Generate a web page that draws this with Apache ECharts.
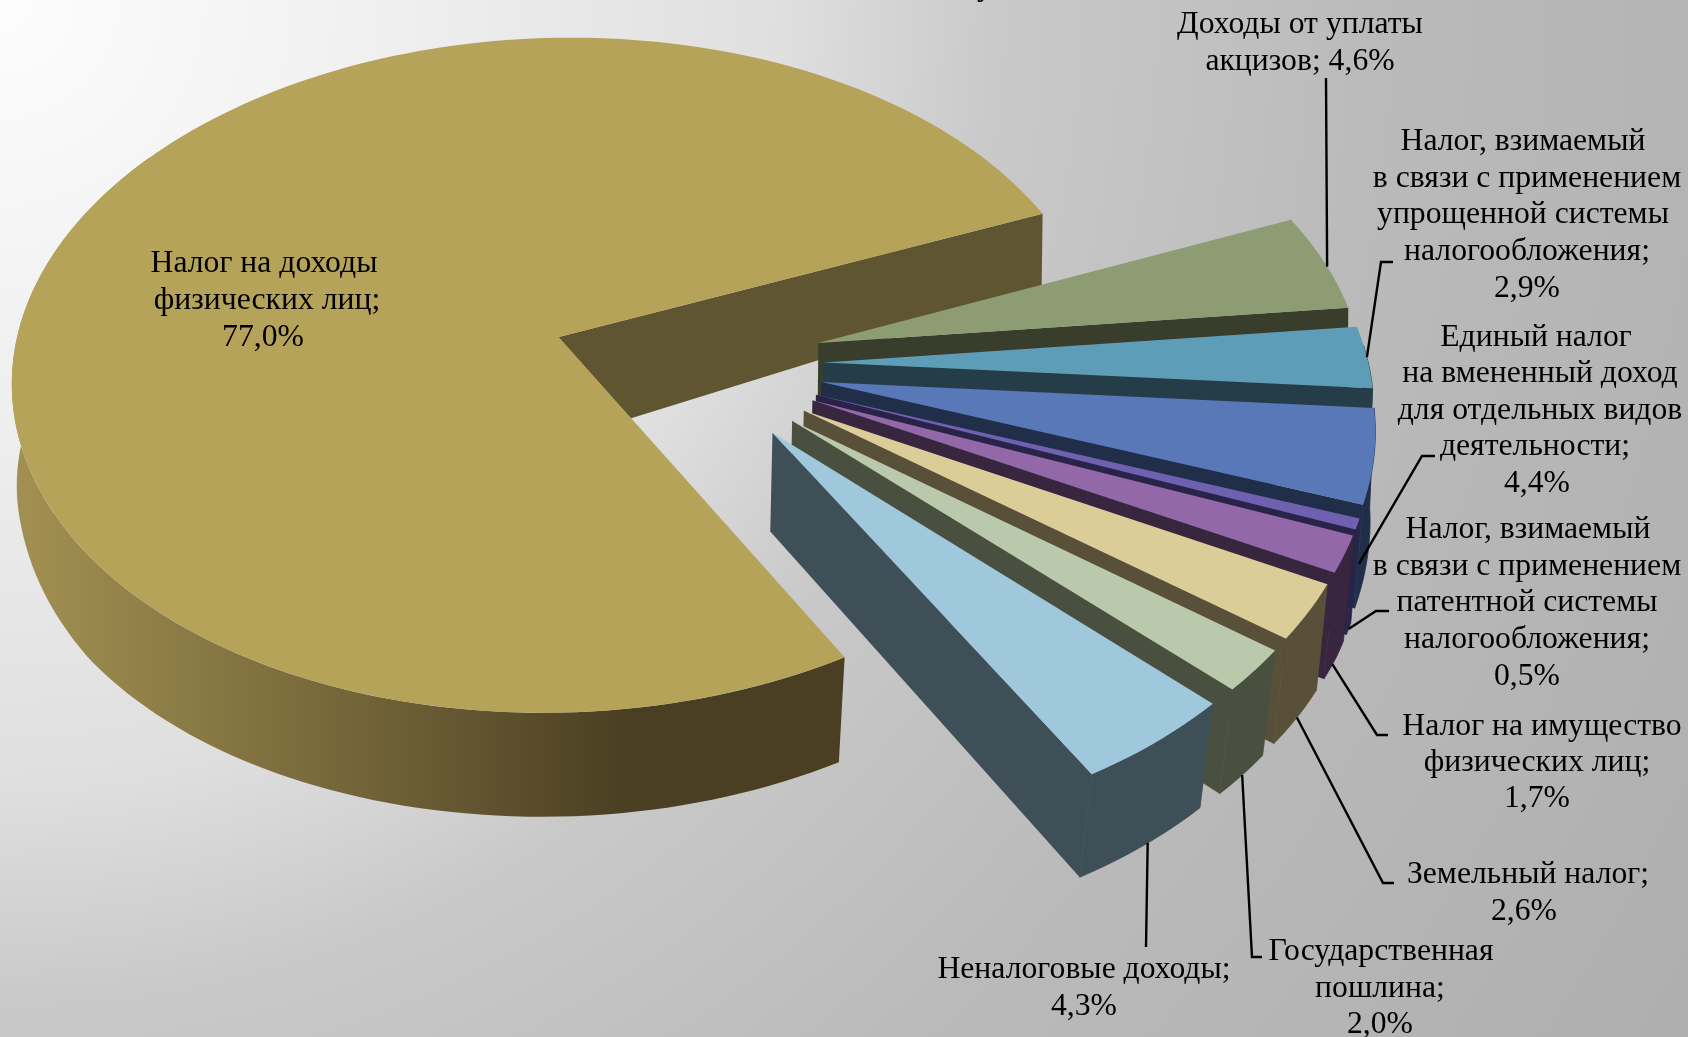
<!DOCTYPE html>
<html><head><meta charset="utf-8">
<style>html,body{margin:0;padding:0;background:#ccc}#c{width:1688px;height:1037px}</style>
<script src="https://cdn.jsdelivr.net/npm/echarts@6/dist/echarts.min.js"></script>
</head><body><div id="c"></div>
<script>
const categories=["Налог на доходы физических лиц","Доходы от уплаты акцизов","Налог УСН","ЕНВД","Патент","Налог на имущество физических лиц","Земельный налог","Государственная пошлина","Неналоговые доходы"];
const values=[77.0,4.6,2.9,4.4,0.5,1.7,2.6,2.0,4.3];
const topColors=["#B6A35A","#8D9C73","#5E9DB8","#5878B8","#7060B0","#9268A8","#DCCD98","#BAC8AC","#A0C8DC"];
const wallColors=["#5F5530","#383D2C","#243D48","#202E4A","#2A2348","#38263F","#585038","#4A5040","#3E4F58"];
const labelLines=[
 ["Налог на доходы","физических лиц;","77,0%"],
 ["Доходы от уплаты","акцизов; 4,6%"],
 ["Налог, взимаемый","в связи с применением","упрощенной системы","налогообложения;","2,9%"],
 ["Единый налог","на вмененный доход","для отдельных видов","деятельности;","4,4%"],
 ["Налог, взимаемый","в связи с применением","патентной системы","налогообложения;","0,5%"],
 ["Налог на имущество","физических лиц;","1,7%"],
 ["Земельный налог;","2,6%"],
 ["Государственная","пошлина;","2,0%"],
 ["Неналоговые доходы;","4,3%"]];
const labelCx=[[264,267,263],[1300,1300],[1523,1527,1523,1527,1527],[1536,1540,1540,1535,1537],[1528,1527,1527,1527,1527],[1542,1537,1537],[1528,1524],[1381,1380,1380],[1084,1084]];
const labelY=[[264,301,338],[25,62],[142,179,215,252,289],[338,374,411,447,484],[530,567,603,640,677],[727,763,799],[875,912],[952,989,1025],[970,1007]];
const leaders=[null,
 {f:.55,d:0,pts:[[1326,78]]},
 {f:.5,d:0,pts:[[1381,262],[1393,262]]},
 {f:.97,d:.6,pts:[[1422,456],[1435,456]]},
 {f:.5,d:1,pts:[[1376,611],[1389,611]]},
 {f:.6,d:1,pts:[[1377,735],[1388,735]]},
 {f:.5,d:1,pts:[[1383,883],[1394,883]]},
 {f:.5,d:1,pts:[[1252,957],[1262,957]]},
 {f:.47,d:1,pts:[[1146,947]]}];
const titleTail="у";
const depthTable=[[.39,75],[0,104],[-.27,100],[-.6,110],[-1.3,110]];

const X0=558.7,Y0=337,RX=541.6,RY=333.2,K=.1133,SHEAR=14,SHRINK=.016,XDRIFT=11,LEFTIN=6,EXPLODE=.25,FIRST=-60.1,RIM=.997;
const rad=a=>a*Math.PI/180;
const total=values.reduce((a,b)=>a+b,0);
let cum=0;
const angles=values.map(v=>{const a0=FIRST-cum/total*360;cum+=v;return{a0,a1:FIRST-cum/total*360};});
const midBig=(angles[0].a0+angles[0].a1)/2;
function depth(v){
 if(v>=depthTable[0][0])return depthTable[0][1];
 for(let k=1;k<depthTable.length;k++){const a=depthTable[k-1],b=depthTable[k];
  if(v>=b[0])return b[1]+(a[1]-b[1])*(v-b[0])/(a[0]-b[0]);}
 return depthTable[depthTable.length-1][1];
}
function P(u,v,d){const w=1+K*v,s=1-SHRINK*d;
 return[X0+(RX*u+SHEAR*v)/w-d*(1+XDRIFT*Math.max(u,0)*Math.max(-v,0)-LEFTIN*Math.max(-u,0)),Y0-RY*v/w*s+depth(v)*d];}
function apex(i){const m=(angles[i].a0+angles[i].a1)/2;
 return[EXPLODE*(Math.cos(rad(m))-Math.cos(rad(midBig))),EXPLODE*(Math.sin(rad(m))-Math.sin(rad(midBig)))];}
function rim(i,a,d){const c=apex(i),r=i?RIM:1;return P(c[0]+r*Math.cos(rad(a)),c[1]+r*Math.sin(rad(a)),d);}
function arc(i,a0,a1,d){const n=Math.max(4,Math.ceil(Math.abs(a0-a1)/1.5)),r=[];for(let k=0;k<=n;k++)r.push(rim(i,a0+(a1-a0)*k/n,d));return r;}
const wrap=x=>{while(x>180)x-=360;while(x<=-180)x+=360;return x;};

const bigWall={type:'linear',x:30,y:0,x2:730,y2:0,global:true,colorStops:[{offset:0,color:'#A08F50'},{offset:.45,color:'#75663A'},{offset:.85,color:'#4A3F22'},{offset:1,color:'#4A3F22'}]};

function renderSlice(params,api){
 const i=params.dataIndex,{a0,a1}=angles[i],c=apex(i),ch=[];
 // outer wall: only the part facing the viewer
 const s=i?Math.min(wrap(a0),3):a0,e=i?wrap(a1):-215;
 if(s>e){const top=arc(i,s,e,0),bot=arc(i,s,e,1).reverse();
  ch.push({type:'polygon',shape:{points:top.concat(bot)},style:i===0?{fill:bigWall}:{fill:wallColors[i],stroke:wallColors[i],lineWidth:.8}});}
 // radial wall at the clockwise end
 ch.push({type:'polygon',shape:{points:[P(c[0],c[1],0),rim(i,a1,0),rim(i,a1,1),P(c[0],c[1],1)]},style:{fill:wallColors[i]}});
 // top
 ch.push({type:'polygon',shape:{points:[P(c[0],c[1],0)].concat(arc(i,a0,a1,0))},style:{fill:topColors[i]}});
 return{type:'group',children:ch};
}
function renderLeader(params,api){
 const i=params.dataIndex,L=leaders[i];if(!L)return null;
 const {a0,a1}=angles[i],p=rim(i,a0+(a1-a0)*L.f,L.d);
 return{type:'polyline',shape:{points:[p].concat(L.pts)},style:{stroke:'#000',lineWidth:2.4,fill:null}};
}
const FONT='31.7px "Liberation Serif"';
function renderText(params,api){
 const i=params.dataIndex;
 const ch=labelLines[i].map((t,k)=>({type:'text',style:{text:t,x:labelCx[i][k],y:labelY[i][k],fill:'#000',align:'center',verticalAlign:'middle',font:FONT}}));
 if(i===0)ch.push({type:'text',style:{text:titleTail,x:985,y:3,fill:'#000',align:'center',verticalAlign:'bottom',font:FONT}});
 return{type:'group',children:ch};
}
const chart=echarts.init(document.getElementById('c'),null,{renderer:'canvas'});
chart.setOption({animation:false,
 backgroundColor:{type:'radial',x:0,y:0,r:1.93,colorStops:[{offset:0,color:'#FDFDFD'},{offset:.2,color:'#EFEFEF'},{offset:.39,color:'#DFDFDF'},{offset:.5,color:'#C9C9C9'},{offset:.69,color:'#BABABA'},{offset:1,color:'#AEAEAE'}]},
 series:[
  {type:'custom',coordinateSystem:'none',silent:true,data:values.map(v=>[v]),renderItem:renderSlice,z:2},
  {type:'custom',coordinateSystem:'none',silent:true,data:values.map(v=>[v]),renderItem:renderLeader,z:3},
  {type:'custom',coordinateSystem:'none',silent:true,data:values.map((v,i)=>({name:categories[i],value:[v]})),renderItem:renderText,z:4}
 ]});
</script></body></html>
